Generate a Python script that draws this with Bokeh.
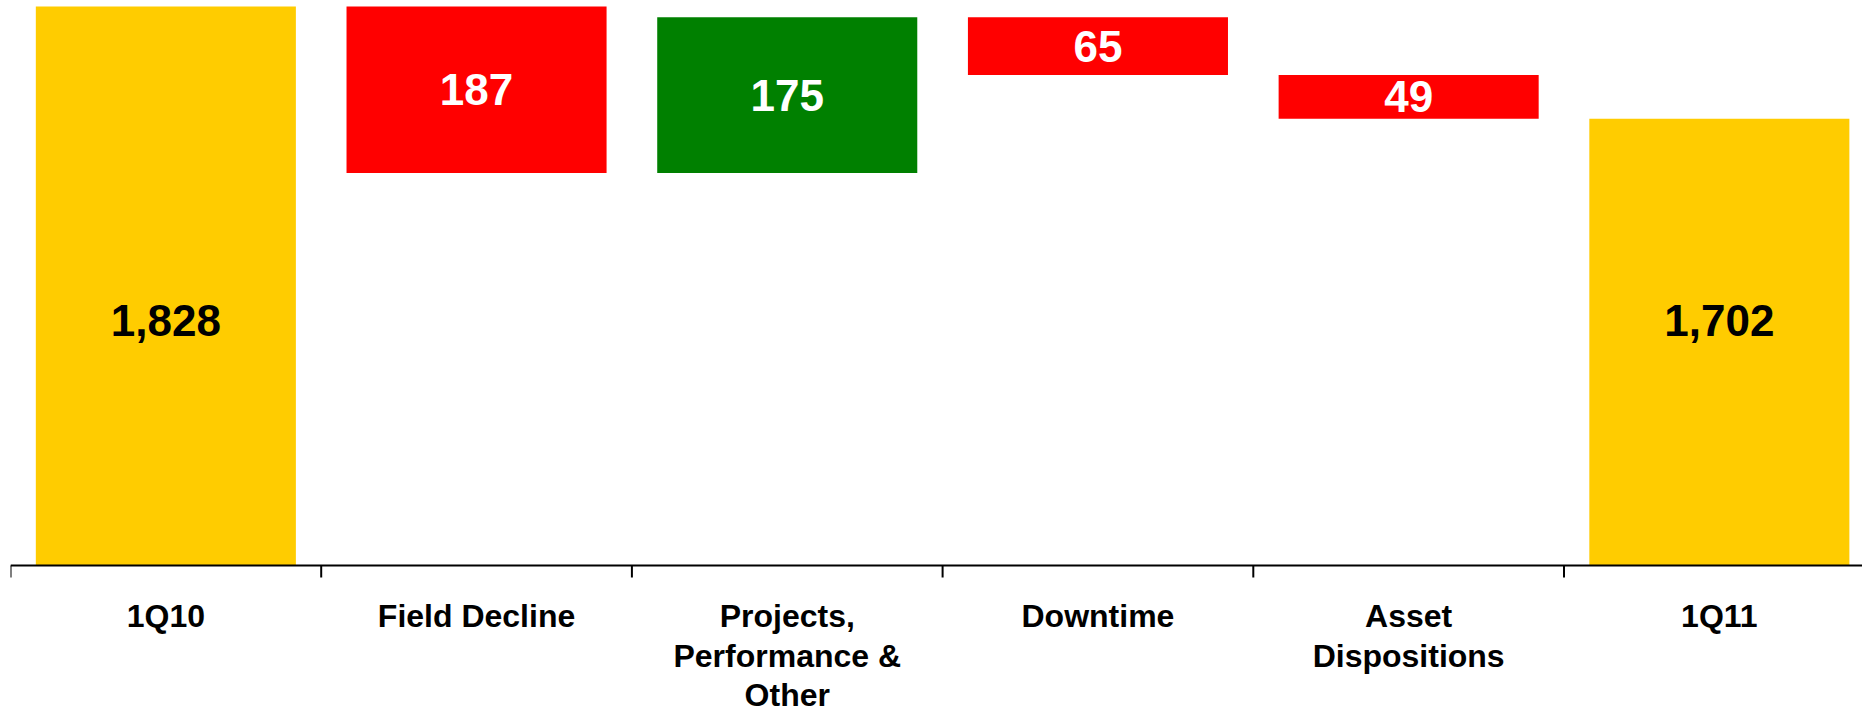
from bokeh.plotting import figure
from bokeh.models import ColumnDataSource, Range1d
from bokeh.core.properties import value
from bokeh.embed import file_html
from bokeh.resources import INLINE

# ---- data ----
categories = ["1Q10", "Field Decline", "Projects,\nPerformance &\nOther",
              "Downtime", "Asset\nDispositions", "1Q11"]
changes = [1828, -187, 175, -65, -49, 1702]
is_total = [True, False, False, False, False, True]

# ---- styling / layout constants ----
AXIS_BASE = 1200
TOTAL_LABEL_Y = 1475
W, H = 1862, 714
BORDER_L = 10
AXIS_PX = 565            # pixel row of the category axis line, from the top
TOP_PX = 6               # pixel row of the highest bar top
CAT_PX = 310.7
BAR_W = 0.837
TICK_PX = 12
LINE_OFFSETS_PX = [50, 90, 129]   # text line centres below the axis line
FONT = "Liberation Sans"
YELLOW, RED, GREEN = "#FFCC00", "#FF0000", "#008000"

frame_w = W - BORDER_L
y_max = max(changes)
px_per_unit = (AXIS_PX - TOP_PX) / (y_max - AXIS_BASE)
y_top = y_max + TOP_PX / px_per_unit
y_bottom = AXIS_BASE - (H - AXIS_PX) / px_per_unit

# waterfall geometry
xs, bottoms, tops, colors, labels, label_y, label_col = [], [], [], [], [], [], []
running = 0
for i, (v, tot) in enumerate(zip(changes, is_total)):
    xs.append(i)
    if tot:
        bottoms.append(AXIS_BASE)
        tops.append(v)
        running = v
        colors.append(YELLOW)
        labels.append(f"{v:,}")
        label_y.append(TOTAL_LABEL_Y)
        label_col.append("black")
    else:
        new = running + v
        bottoms.append(min(running, new))
        tops.append(max(running, new))
        colors.append(GREEN if v > 0 else RED)
        labels.append(f"{abs(v):,}")
        label_y.append((running + new) / 2)
        label_col.append("white")
        running = new

src = ColumnDataSource(dict(x=xs, bottom=bottoms, top=tops, color=colors,
                            label=labels, ly=label_y, lc=label_col))

p = figure(width=W, height=H, output_backend="svg", toolbar_location=None,
           x_range=Range1d(-0.5, -0.5 + frame_w / CAT_PX),
           y_range=Range1d(y_bottom, y_top),
           x_axis_location=None, y_axis_location=None,
           min_border_left=BORDER_L, min_border_right=0,
           min_border_top=0, min_border_bottom=0)
p.outline_line_color = None
p.xgrid.visible = False
p.ygrid.visible = False
p.background_fill_color = "white"
p.border_fill_color = "white"

p.vbar(x="x", bottom="bottom", top="top", width=BAR_W, fill_color="color",
       line_color=None, source=src)

p.text(x="x", y="ly", text="label", text_color="lc", source=src,
       text_font=value(FONT), text_font_style="bold", text_font_size="44px",
       text_align="center", text_baseline="middle")

# category axis: line and boundary ticks
p.hspan(y=[AXIS_BASE], line_color="black", line_width=2)
bounds = [i - 0.5 for i in range(len(categories) + 1)]
p.segment(x0=bounds, x1=bounds, y0=[AXIS_BASE] * len(bounds),
          y1=[AXIS_BASE - TICK_PX / px_per_unit] * len(bounds),
          line_color="black", line_width=2)

# category labels (one text per line)
cx, cy, ct = [], [], []
for i, cat in enumerate(categories):
    for j, line in enumerate(cat.split("\n")):
        cx.append(i)
        cy.append(AXIS_BASE - LINE_OFFSETS_PX[j] / px_per_unit)
        ct.append(line)
p.text(x=cx, y=cy, text=ct, text_font=value(FONT), text_font_style="bold",
       text_font_size="32px", text_color="black",
       text_align="center", text_baseline="middle")

open("out.html", "w").write(file_html(p, INLINE))
